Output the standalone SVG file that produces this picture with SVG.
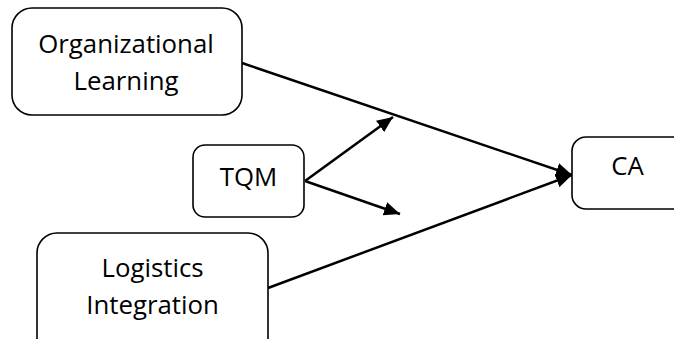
<svg xmlns="http://www.w3.org/2000/svg" width="674" height="339" viewBox="0 0 674 339">
<style>
.box{fill:#fff;stroke:#000;stroke-width:1.6}
.lbl{font-family:"Open Sans","Liberation Sans",sans-serif;font-size:25.8px;fill:#000;text-anchor:middle}
.conn{stroke:#000;stroke-width:2.5;fill:none;marker-end:url(#ah)}
</style>
<defs>
<marker id="ah" markerUnits="userSpaceOnUse" markerWidth="18" markerHeight="14" refX="16" refY="7" orient="auto">
<path d="M0,0 L16,7 L0,14 Z" fill="#000"/>
</marker>
</defs>
<rect width="674" height="339" fill="#fff"/>
<g id="connectors">
<line class="conn" x1="242" y1="63" x2="572" y2="175"/>
<line class="conn" x1="268" y1="288" x2="572" y2="175"/>
<line class="conn" x1="305" y1="181" x2="393" y2="117"/>
<line class="conn" x1="305" y1="181" x2="400" y2="214"/>
</g>
<g id="org-learning">
<rect class="box" x="12" y="8" width="230" height="107" rx="20"/>
<text class="lbl" x="126" y="53">Organizational</text>
<text class="lbl" x="126" y="90">Learning</text>
</g>
<g id="tqm">
<rect class="box" x="193" y="145" width="111" height="72" rx="12"/>
<text class="lbl" x="248.5" y="186">TQM</text>
</g>
<g id="logistics-integration">
<rect class="box" x="37" y="233" width="231" height="125" rx="20"/>
<text class="lbl" x="152.5" y="277">Logistics</text>
<text class="lbl" x="152.5" y="314">Integration</text>
</g>
<g id="ca">
<rect class="box" x="572" y="137" width="120" height="72" rx="14"/>
<text class="lbl" x="627.5" y="175">CA</text>
</g>
</svg>
